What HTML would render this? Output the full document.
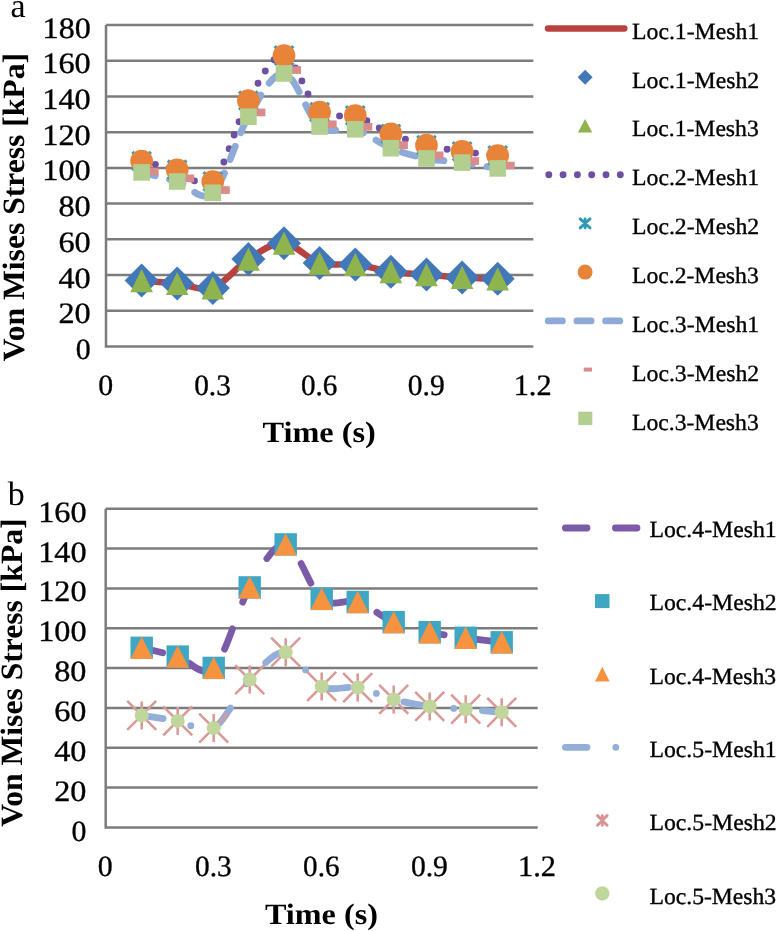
<!DOCTYPE html><html><head><meta charset="utf-8"><style>html,body{margin:0;padding:0;background:#fff;}body{width:778px;height:931px;overflow:hidden;position:relative;}svg{position:absolute;left:0;top:0;display:block;will-change:transform;}text{font-family:"Liberation Serif",serif;fill:#000;text-rendering:geometricPrecision;}.b{font-weight:bold;}.r{stroke:#000;stroke-width:0.35px;}</style></head><body>
<svg width="778" height="931" viewBox="0 0 778 931">
<line x1="106.0" y1="310.8" x2="533.3" y2="310.8" stroke="#7c7c7c" stroke-width="2.5"/>
<line x1="106.0" y1="275.1" x2="533.3" y2="275.1" stroke="#7c7c7c" stroke-width="2.5"/>
<line x1="106.0" y1="239.3" x2="533.3" y2="239.3" stroke="#7c7c7c" stroke-width="2.5"/>
<line x1="106.0" y1="203.6" x2="533.3" y2="203.6" stroke="#7c7c7c" stroke-width="2.5"/>
<line x1="106.0" y1="167.9" x2="533.3" y2="167.9" stroke="#7c7c7c" stroke-width="2.5"/>
<line x1="106.0" y1="132.2" x2="533.3" y2="132.2" stroke="#7c7c7c" stroke-width="2.5"/>
<line x1="106.0" y1="96.5" x2="533.3" y2="96.5" stroke="#7c7c7c" stroke-width="2.5"/>
<line x1="106.0" y1="60.7" x2="533.3" y2="60.7" stroke="#7c7c7c" stroke-width="2.5"/>
<line x1="106.0" y1="25.0" x2="533.3" y2="25.0" stroke="#7c7c7c" stroke-width="2.5"/>
<path d="M106.0,25.0 V346.5 H533.3" fill="none" stroke="#7c7c7c" stroke-width="2.5"/>
<path d="M141.6,280.6 C147.5,281.1 165.3,282.3 177.2,283.5 C189.1,284.7 201.0,292.0 212.8,287.9 C224.7,283.8 236.6,266.6 248.4,259.1 C260.3,251.7 272.2,242.5 284.0,243.2 C295.9,243.9 307.8,259.6 319.6,263.1 C331.5,266.6 343.4,263.0 355.3,264.4 C367.1,265.8 379.0,270.0 390.9,271.7 C402.7,273.4 414.6,273.7 426.5,274.6 C438.3,275.6 450.2,276.7 462.1,277.4 C474.0,278.1 491.8,278.6 497.7,278.8" fill="none" stroke="#b9423f" stroke-width="6.5" stroke-linecap="round" stroke-linejoin="round"/>
<path d="M141.6,161.1 C147.5,162.6 165.3,166.4 177.2,169.8 C189.1,173.2 201.0,193.0 212.8,181.5 C224.7,170.0 236.6,121.7 248.4,100.7 C260.3,79.7 272.2,53.6 284.0,55.5 C295.9,57.4 307.8,102.2 319.6,112.2 C331.5,122.2 343.4,111.9 355.3,115.5 C367.1,119.1 379.0,129.0 390.9,133.9 C402.7,138.8 414.6,142.3 426.5,145.2 C438.3,148.1 450.2,149.7 462.1,151.4 C474.0,153.1 491.8,154.8 497.7,155.5" fill="none" stroke="#6f4f9f" stroke-width="6.9" stroke-linecap="round" stroke-dasharray="0 14.3"/>
<path d="M141.6,172.4 C147.5,173.9 165.3,178.1 177.2,181.5 C189.1,184.9 201.0,203.6 212.8,192.8 C224.7,182.0 236.6,136.6 248.4,116.7 C260.3,96.8 272.2,71.9 284.0,73.5 C295.9,75.1 307.8,117.2 319.6,126.5 C331.5,135.8 343.4,125.7 355.3,129.3 C367.1,132.9 379.0,143.3 390.9,148.2 C402.7,153.0 414.6,156.0 426.5,158.4 C438.3,160.8 450.2,160.9 462.1,162.6 C474.0,164.3 491.8,167.4 497.7,168.4" fill="none" stroke="#8eaad8" stroke-width="6.8" stroke-linecap="round" stroke-dasharray="14.2 14.5"/>
<path d="M141.6,263.6 l17.0,17.0 l-17.0,17.0 l-17.0,-17.0 z" fill="#4278b8"/>
<path d="M177.2,266.5 l17.0,17.0 l-17.0,17.0 l-17.0,-17.0 z" fill="#4278b8"/>
<path d="M212.8,270.9 l17.0,17.0 l-17.0,17.0 l-17.0,-17.0 z" fill="#4278b8"/>
<path d="M248.4,242.1 l17.0,17.0 l-17.0,17.0 l-17.0,-17.0 z" fill="#4278b8"/>
<path d="M284.0,226.2 l17.0,17.0 l-17.0,17.0 l-17.0,-17.0 z" fill="#4278b8"/>
<path d="M319.6,246.1 l17.0,17.0 l-17.0,17.0 l-17.0,-17.0 z" fill="#4278b8"/>
<path d="M355.3,247.4 l17.0,17.0 l-17.0,17.0 l-17.0,-17.0 z" fill="#4278b8"/>
<path d="M390.9,254.7 l17.0,17.0 l-17.0,17.0 l-17.0,-17.0 z" fill="#4278b8"/>
<path d="M426.5,257.6 l17.0,17.0 l-17.0,17.0 l-17.0,-17.0 z" fill="#4278b8"/>
<path d="M462.1,260.4 l17.0,17.0 l-17.0,17.0 l-17.0,-17.0 z" fill="#4278b8"/>
<path d="M497.7,261.8 l17.0,17.0 l-17.0,17.0 l-17.0,-17.0 z" fill="#4278b8"/>
<path d="M141.6,269.0 L153.0,292.2 L130.3,292.2 z" fill="#8fb44e"/>
<path d="M177.2,271.9 L188.6,295.1 L165.9,295.1 z" fill="#8fb44e"/>
<path d="M212.8,276.3 L224.2,299.5 L201.5,299.5 z" fill="#8fb44e"/>
<path d="M248.4,247.5 L259.8,270.7 L237.1,270.7 z" fill="#8fb44e"/>
<path d="M284.0,231.6 L295.4,254.8 L272.7,254.8 z" fill="#8fb44e"/>
<path d="M319.6,251.5 L331.0,274.7 L308.3,274.7 z" fill="#8fb44e"/>
<path d="M355.3,252.8 L366.6,276.0 L343.9,276.0 z" fill="#8fb44e"/>
<path d="M390.9,260.1 L402.2,283.3 L379.5,283.3 z" fill="#8fb44e"/>
<path d="M426.5,263.0 L437.8,286.2 L415.1,286.2 z" fill="#8fb44e"/>
<path d="M462.1,265.8 L473.4,289.0 L450.7,289.0 z" fill="#8fb44e"/>
<path d="M497.7,267.2 L509.0,290.4 L486.3,290.4 z" fill="#8fb44e"/>
<path d="M132.3,151.8 l18.6,18.6 M150.9,151.8 l-18.6,18.6" stroke="#3a9bb6" stroke-width="3.2"/>
<path d="M167.9,160.5 l18.6,18.6 M186.5,160.5 l-18.6,18.6" stroke="#3a9bb6" stroke-width="3.2"/>
<path d="M203.5,172.2 l18.6,18.6 M222.1,172.2 l-18.6,18.6" stroke="#3a9bb6" stroke-width="3.2"/>
<path d="M239.1,91.4 l18.6,18.6 M257.7,91.4 l-18.6,18.6" stroke="#3a9bb6" stroke-width="3.2"/>
<path d="M274.7,46.2 l18.6,18.6 M293.3,46.2 l-18.6,18.6" stroke="#3a9bb6" stroke-width="3.2"/>
<path d="M310.3,102.9 l18.6,18.6 M328.9,102.9 l-18.6,18.6" stroke="#3a9bb6" stroke-width="3.2"/>
<path d="M346.0,106.2 l18.6,18.6 M364.6,106.2 l-18.6,18.6" stroke="#3a9bb6" stroke-width="3.2"/>
<path d="M381.6,124.6 l18.6,18.6 M400.2,124.6 l-18.6,18.6" stroke="#3a9bb6" stroke-width="3.2"/>
<path d="M417.2,135.9 l18.6,18.6 M435.8,135.9 l-18.6,18.6" stroke="#3a9bb6" stroke-width="3.2"/>
<path d="M452.8,142.1 l18.6,18.6 M471.4,142.1 l-18.6,18.6" stroke="#3a9bb6" stroke-width="3.2"/>
<path d="M488.4,146.2 l18.6,18.6 M507.0,146.2 l-18.6,18.6" stroke="#3a9bb6" stroke-width="3.2"/>
<circle cx="141.6" cy="161.1" r="11.35" fill="#e8833a"/>
<circle cx="177.2" cy="169.8" r="11.35" fill="#e8833a"/>
<circle cx="212.8" cy="181.5" r="11.35" fill="#e8833a"/>
<circle cx="248.4" cy="100.7" r="11.35" fill="#e8833a"/>
<circle cx="284.0" cy="55.5" r="11.35" fill="#e8833a"/>
<circle cx="319.6" cy="112.2" r="11.35" fill="#e8833a"/>
<circle cx="355.3" cy="115.5" r="11.35" fill="#e8833a"/>
<circle cx="390.9" cy="133.9" r="11.35" fill="#e8833a"/>
<circle cx="426.5" cy="145.2" r="11.35" fill="#e8833a"/>
<circle cx="462.1" cy="151.4" r="11.35" fill="#e8833a"/>
<circle cx="497.7" cy="155.5" r="11.35" fill="#e8833a"/>
<rect x="142.6" y="167.8" width="16" height="7.7" fill="#d98c8c"/>
<rect x="178.2" y="174.5" width="16" height="7.7" fill="#d98c8c"/>
<rect x="213.8" y="186.2" width="16" height="7.7" fill="#d98c8c"/>
<rect x="249.4" y="108.6" width="16" height="7.7" fill="#d98c8c"/>
<rect x="285.0" y="66.2" width="16" height="7.7" fill="#d98c8c"/>
<rect x="320.6" y="120.4" width="16" height="7.7" fill="#d98c8c"/>
<rect x="356.3" y="123.0" width="16" height="7.7" fill="#d98c8c"/>
<rect x="391.9" y="141.3" width="16" height="7.7" fill="#d98c8c"/>
<rect x="427.5" y="151.5" width="16" height="7.7" fill="#d98c8c"/>
<rect x="463.1" y="157.2" width="16" height="7.7" fill="#d98c8c"/>
<rect x="498.7" y="161.7" width="16" height="7.7" fill="#d98c8c"/>
<rect x="133.3" y="164.1" width="16.6" height="16.6" fill="#b3cf90"/>
<rect x="168.9" y="173.2" width="16.6" height="16.6" fill="#b3cf90"/>
<rect x="204.5" y="184.5" width="16.6" height="16.6" fill="#b3cf90"/>
<rect x="240.1" y="108.4" width="16.6" height="16.6" fill="#b3cf90"/>
<rect x="275.7" y="65.2" width="16.6" height="16.6" fill="#b3cf90"/>
<rect x="311.3" y="118.2" width="16.6" height="16.6" fill="#b3cf90"/>
<rect x="347.0" y="121.0" width="16.6" height="16.6" fill="#b3cf90"/>
<rect x="382.6" y="139.9" width="16.6" height="16.6" fill="#b3cf90"/>
<rect x="418.2" y="150.1" width="16.6" height="16.6" fill="#b3cf90"/>
<rect x="453.8" y="154.3" width="16.6" height="16.6" fill="#b3cf90"/>
<rect x="489.4" y="160.1" width="16.6" height="16.6" fill="#b3cf90"/>
<line x1="105.7" y1="787.6" x2="537.7" y2="787.6" stroke="#7c7c7c" stroke-width="2.5"/>
<line x1="105.7" y1="747.8" x2="537.7" y2="747.8" stroke="#7c7c7c" stroke-width="2.5"/>
<line x1="105.7" y1="708.0" x2="537.7" y2="708.0" stroke="#7c7c7c" stroke-width="2.5"/>
<line x1="105.7" y1="668.1" x2="537.7" y2="668.1" stroke="#7c7c7c" stroke-width="2.5"/>
<line x1="105.7" y1="628.2" x2="537.7" y2="628.2" stroke="#7c7c7c" stroke-width="2.5"/>
<line x1="105.7" y1="588.4" x2="537.7" y2="588.4" stroke="#7c7c7c" stroke-width="2.5"/>
<line x1="105.7" y1="548.5" x2="537.7" y2="548.5" stroke="#7c7c7c" stroke-width="2.5"/>
<line x1="105.7" y1="508.7" x2="537.7" y2="508.7" stroke="#7c7c7c" stroke-width="2.5"/>
<path d="M105.7,508.7 V827.5 H537.7" fill="none" stroke="#7c7c7c" stroke-width="2.5"/>
<path d="M141.7,647.8 C147.7,649.3 165.7,653.2 177.7,656.6 C189.7,660.0 201.7,679.4 213.7,667.9 C225.7,656.4 237.7,608.0 249.7,587.4 C261.7,566.8 273.7,542.5 285.7,544.4 C297.7,546.3 309.7,589.3 321.7,598.9 C333.7,608.5 345.7,598.1 357.7,602.0 C369.7,605.9 381.7,617.1 393.7,622.1 C405.7,627.1 417.7,629.6 429.7,632.2 C441.7,634.8 453.7,636.1 465.7,637.8 C477.7,639.5 495.7,641.5 501.7,642.3" fill="none" stroke="#7b5ba8" stroke-width="6.8" stroke-linecap="round" stroke-dasharray="21.6 28.4"/>
<path d="M141.7,715.4 C147.7,716.3 165.7,718.8 177.7,720.9 C189.7,723.0 201.7,735.0 213.7,728.1 C225.7,721.2 237.7,692.2 249.7,679.6 C261.7,667.0 273.7,651.1 285.7,652.2 C297.7,653.3 309.7,680.5 321.7,686.4 C333.7,692.3 345.7,685.4 357.7,687.6 C369.7,689.8 381.7,696.3 393.7,699.4 C405.7,702.5 417.7,704.8 429.7,706.4 C441.7,708.0 453.7,708.2 465.7,709.2 C477.7,710.2 495.7,711.8 501.7,712.3" fill="none" stroke="#93aed8" stroke-width="6.8" stroke-linecap="round" stroke-dasharray="21.6 28.8 0 28.8"/>
<rect x="130.5" y="636.6" width="22.4" height="22.4" fill="#3fa7c4"/>
<rect x="166.5" y="645.4" width="22.4" height="22.4" fill="#3fa7c4"/>
<rect x="202.5" y="656.7" width="22.4" height="22.4" fill="#3fa7c4"/>
<rect x="238.5" y="576.2" width="22.4" height="22.4" fill="#3fa7c4"/>
<rect x="274.5" y="533.2" width="22.4" height="22.4" fill="#3fa7c4"/>
<rect x="310.5" y="587.7" width="22.4" height="22.4" fill="#3fa7c4"/>
<rect x="346.5" y="590.8" width="22.4" height="22.4" fill="#3fa7c4"/>
<rect x="382.5" y="610.9" width="22.4" height="22.4" fill="#3fa7c4"/>
<rect x="418.5" y="621.0" width="22.4" height="22.4" fill="#3fa7c4"/>
<rect x="454.5" y="626.6" width="22.4" height="22.4" fill="#3fa7c4"/>
<rect x="490.5" y="631.1" width="22.4" height="22.4" fill="#3fa7c4"/>
<path d="M141.7,636.6 L152.9,659.0 L130.5,659.0 z" fill="#f7923f"/>
<path d="M177.7,645.4 L188.9,667.8 L166.5,667.8 z" fill="#f7923f"/>
<path d="M213.7,656.7 L224.9,679.1 L202.5,679.1 z" fill="#f7923f"/>
<path d="M249.7,576.2 L260.9,598.6 L238.5,598.6 z" fill="#f7923f"/>
<path d="M285.7,533.2 L296.9,555.6 L274.5,555.6 z" fill="#f7923f"/>
<path d="M321.7,587.7 L332.9,610.1 L310.5,610.1 z" fill="#f7923f"/>
<path d="M357.7,590.8 L368.9,613.2 L346.5,613.2 z" fill="#f7923f"/>
<path d="M393.7,610.9 L404.9,633.3 L382.5,633.3 z" fill="#f7923f"/>
<path d="M429.7,621.0 L440.9,643.4 L418.5,643.4 z" fill="#f7923f"/>
<path d="M465.7,626.6 L476.9,649.0 L454.5,649.0 z" fill="#f7923f"/>
<path d="M501.7,631.1 L512.9,653.5 L490.5,653.5 z" fill="#f7923f"/>
<path d="M127.2,700.9 l29.0,29.0 M156.2,700.9 l-29.0,29.0 M141.7,701.4 v28.0" stroke="#d99a98" stroke-width="2.6"/>
<path d="M163.2,706.4 l29.0,29.0 M192.2,706.4 l-29.0,29.0 M177.7,706.9 v28.0" stroke="#d99a98" stroke-width="2.6"/>
<path d="M199.2,713.6 l29.0,29.0 M228.2,713.6 l-29.0,29.0 M213.7,714.1 v28.0" stroke="#d99a98" stroke-width="2.6"/>
<path d="M235.2,665.1 l29.0,29.0 M264.2,665.1 l-29.0,29.0 M249.7,665.6 v28.0" stroke="#d99a98" stroke-width="2.6"/>
<path d="M271.2,637.7 l29.0,29.0 M300.2,637.7 l-29.0,29.0 M285.7,638.2 v28.0" stroke="#d99a98" stroke-width="2.6"/>
<path d="M307.2,671.9 l29.0,29.0 M336.2,671.9 l-29.0,29.0 M321.7,672.4 v28.0" stroke="#d99a98" stroke-width="2.6"/>
<path d="M343.2,673.1 l29.0,29.0 M372.2,673.1 l-29.0,29.0 M357.7,673.6 v28.0" stroke="#d99a98" stroke-width="2.6"/>
<path d="M379.2,684.9 l29.0,29.0 M408.2,684.9 l-29.0,29.0 M393.7,685.4 v28.0" stroke="#d99a98" stroke-width="2.6"/>
<path d="M415.2,691.9 l29.0,29.0 M444.2,691.9 l-29.0,29.0 M429.7,692.4 v28.0" stroke="#d99a98" stroke-width="2.6"/>
<path d="M451.2,694.7 l29.0,29.0 M480.2,694.7 l-29.0,29.0 M465.7,695.2 v28.0" stroke="#d99a98" stroke-width="2.6"/>
<path d="M487.2,697.8 l29.0,29.0 M516.2,697.8 l-29.0,29.0 M501.7,698.3 v28.0" stroke="#d99a98" stroke-width="2.6"/>
<circle cx="141.7" cy="715.4" r="7.0" fill="#c1d69d"/>
<circle cx="177.7" cy="720.9" r="7.0" fill="#c1d69d"/>
<circle cx="213.7" cy="728.1" r="7.0" fill="#c1d69d"/>
<circle cx="249.7" cy="679.6" r="7.0" fill="#c1d69d"/>
<circle cx="285.7" cy="652.2" r="7.0" fill="#c1d69d"/>
<circle cx="321.7" cy="686.4" r="7.0" fill="#c1d69d"/>
<circle cx="357.7" cy="687.6" r="7.0" fill="#c1d69d"/>
<circle cx="393.7" cy="699.4" r="7.0" fill="#c1d69d"/>
<circle cx="429.7" cy="706.4" r="7.0" fill="#c1d69d"/>
<circle cx="465.7" cy="709.2" r="7.0" fill="#c1d69d"/>
<circle cx="501.7" cy="712.3" r="7.0" fill="#c1d69d"/>
<text class="r" transform="translate(75.64,359.00) scale(1.0080,1)" font-size="29.6">0</text>
<text class="r" transform="translate(58.44,323.28) scale(1.0900,1)" font-size="29.6">20</text>
<text class="r" transform="translate(58.44,287.56) scale(1.0900,1)" font-size="29.6">40</text>
<text class="r" transform="translate(58.44,251.84) scale(1.0900,1)" font-size="29.6">60</text>
<text class="r" transform="translate(58.44,216.12) scale(1.0900,1)" font-size="29.6">80</text>
<text class="r" transform="translate(42.36,180.40) scale(1.0900,1)" font-size="29.6">100</text>
<text class="r" transform="translate(42.36,144.68) scale(1.0900,1)" font-size="29.6">120</text>
<text class="r" transform="translate(42.36,108.96) scale(1.0900,1)" font-size="29.6">140</text>
<text class="r" transform="translate(42.36,73.24) scale(1.0900,1)" font-size="29.6">160</text>
<text class="r" transform="translate(42.59,37.52) scale(1.0847,1)" font-size="29.6">180</text>
<text class="r" transform="translate(98.14,395.10) scale(1.0080,1)" font-size="29.6">0</text>
<text class="r" transform="translate(194.19,395.10) scale(0.9913,1)" font-size="29.6">0.3</text>
<text class="r" transform="translate(301.02,395.10) scale(0.9842,1)" font-size="29.6">0.6</text>
<text class="r" transform="translate(407.68,395.10) scale(1.0000,1)" font-size="29.6">0.9</text>
<text class="r" transform="translate(513.64,395.10) scale(1.0260,1)" font-size="29.6">1.2</text>
<text class="r" transform="translate(71.44,840.50) scale(1.0080,1)" font-size="29.6">0</text>
<text class="r" transform="translate(54.23,800.65) scale(1.0900,1)" font-size="29.6">20</text>
<text class="r" transform="translate(54.23,760.80) scale(1.0900,1)" font-size="29.6">40</text>
<text class="r" transform="translate(54.23,720.95) scale(1.0900,1)" font-size="29.6">60</text>
<text class="r" transform="translate(54.23,681.10) scale(1.0900,1)" font-size="29.6">80</text>
<text class="r" transform="translate(38.16,641.25) scale(1.0900,1)" font-size="29.6">100</text>
<text class="r" transform="translate(38.16,601.40) scale(1.0900,1)" font-size="29.6">120</text>
<text class="r" transform="translate(38.16,561.55) scale(1.0900,1)" font-size="29.6">140</text>
<text class="r" transform="translate(38.16,521.70) scale(1.0900,1)" font-size="29.6">160</text>
<text class="r" transform="translate(97.84,876.00) scale(1.0080,1)" font-size="29.6">0</text>
<text class="r" transform="translate(195.06,876.00) scale(0.9913,1)" font-size="29.6">0.3</text>
<text class="r" transform="translate(303.07,876.00) scale(0.9842,1)" font-size="29.6">0.6</text>
<text class="r" transform="translate(410.90,876.00) scale(1.0000,1)" font-size="29.6">0.9</text>
<text class="r" transform="translate(518.04,876.00) scale(1.0260,1)" font-size="29.6">1.2</text>
<text class="b" transform="translate(262.45,442.40) scale(1.0958,1)" font-size="29.5">Time (s)</text>
<text class="b" transform="translate(264.95,923.70) scale(1.0909,1)" font-size="29.5">Time (s)</text>
<text class="b" transform="translate(23.50,361.25) rotate(-90) scale(1.0198,1)" font-size="31">Von Mises Stress [kPa]</text>
<text class="b" transform="translate(21.70,826.76) rotate(-90) scale(1.0202,1)" font-size="31">Von Mises Stress [kPa]</text>
<text x="10.6" y="16.8" font-size="34">a</text>
<text x="7.7" y="505" font-size="34">b</text>
<text class="r" transform="translate(632.03,38.70) scale(1.0233,1)" font-size="23.2">Loc.1-Mesh1</text>
<text class="r" transform="translate(632.03,87.58) scale(1.0233,1)" font-size="23.2">Loc.1-Mesh2</text>
<text class="r" transform="translate(632.04,136.45) scale(1.0191,1)" font-size="23.2">Loc.1-Mesh3</text>
<text class="r" transform="translate(632.03,185.32) scale(1.0233,1)" font-size="23.2">Loc.2-Mesh1</text>
<text class="r" transform="translate(632.03,234.20) scale(1.0233,1)" font-size="23.2">Loc.2-Mesh2</text>
<text class="r" transform="translate(632.04,283.07) scale(1.0191,1)" font-size="23.2">Loc.2-Mesh3</text>
<text class="r" transform="translate(632.03,331.95) scale(1.0233,1)" font-size="23.2">Loc.3-Mesh1</text>
<text class="r" transform="translate(632.03,380.82) scale(1.0233,1)" font-size="23.2">Loc.3-Mesh2</text>
<text class="r" transform="translate(632.04,429.70) scale(1.0191,1)" font-size="23.2">Loc.3-Mesh3</text>
<line x1="548" y1="28.4" x2="624.3" y2="28.4" stroke="#b9423f" stroke-width="6.5" stroke-linecap="round"/>
<path d="M585.1,69.7 l7.5,7.5 l-7.5,7.5 l-7.5,-7.5 z" fill="#4278b8"/>
<path d="M585.1,118.9 l7.2,13.5 h-14.4 z" fill="#8fb44e"/>
<line x1="548.8" y1="174.7" x2="621" y2="174.7" stroke="#6f4f9f" stroke-width="6.9" stroke-linecap="round" stroke-dasharray="0 14.3"/>
<path d="M580.2,218.9 l9.8,9 M590.0,218.9 l-9.8,9 M585.1,218.9 v9" stroke="#3299b4" stroke-width="2.9" stroke-linecap="round"/>
<circle cx="585.1" cy="272.1" r="7.5" fill="#e8833a"/>
<line x1="548.2" y1="320.9" x2="620" y2="320.9" stroke="#8eaad8" stroke-width="6.8" stroke-linecap="round" stroke-dasharray="14.2 14.5"/>
<rect x="583.7" y="367.6" width="8.3" height="4" fill="#d98c8c"/>
<rect x="578.3" y="411.7" width="14" height="13.4" fill="#b3cf90"/>
<text class="r" transform="translate(649.48,536.70) scale(1.0233,1)" font-size="23.2">Loc.4-Mesh1</text>
<text class="r" transform="translate(649.48,610.10) scale(1.0233,1)" font-size="23.2">Loc.4-Mesh2</text>
<text class="r" transform="translate(649.49,683.50) scale(1.0191,1)" font-size="23.2">Loc.4-Mesh3</text>
<text class="r" transform="translate(649.48,756.90) scale(1.0233,1)" font-size="23.2">Loc.5-Mesh1</text>
<text class="r" transform="translate(649.48,830.30) scale(1.0233,1)" font-size="23.2">Loc.5-Mesh2</text>
<text class="r" transform="translate(649.49,903.70) scale(1.0191,1)" font-size="23.2">Loc.5-Mesh3</text>
<line x1="565.4" y1="528.0" x2="637" y2="528.0" stroke="#7b5ba8" stroke-width="6.8" stroke-linecap="round" stroke-dasharray="21.6 28.4"/>
<rect x="595.0" y="594.1" width="14.5" height="14" fill="#3fa7c4"/>
<path d="M602.3,666.8 l7.3,14.8 h-14.6 z" fill="#f7923f"/>
<line x1="565.4" y1="747.3" x2="616" y2="747.3" stroke="#93aed8" stroke-width="6.8" stroke-linecap="round" stroke-dasharray="21.6 28.8 0 100"/>
<path d="M597.5,815.6 l9.6,9.6 M607.1,815.6 l-9.6,9.6 M602.3,815.6 v9.6" stroke="#d39596" stroke-width="2.9" stroke-linecap="round"/>
<circle cx="602.3" cy="893.5" r="7.2" fill="#c1d69d"/>
</svg></body></html>
